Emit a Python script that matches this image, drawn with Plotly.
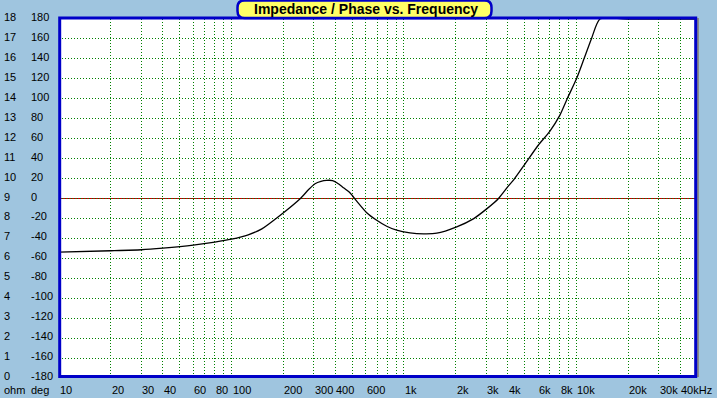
import numpy as np
import plotly.graph_objects as go

# ---- data ----
freq_hz = [10, 20, 30, 40, 60, 80, 100, 125, 150, 191, 250, 280, 305, 330, 356,
           385, 410, 440, 486, 532, 608, 695, 794, 907, 1083, 1300, 1549, 2021,
           2523, 3015, 3523, 4024, 4345, 5000, 6000, 7000, 8017, 8846, 10030,
           11040, 12240, 13680, 20000, 50000]
impedance_ohm = [6.31, 6.38, 6.43, 6.51, 6.66, 6.81, 6.96, 7.18, 7.48, 8.15,
                 8.99, 9.45, 9.74, 9.86, 9.91, 9.90, 9.78, 9.58, 9.29, 8.87,
                 8.29, 7.91, 7.61, 7.41, 7.28, 7.23, 7.26, 7.58, 7.98, 8.48,
                 8.99, 9.62, 9.96, 10.7, 11.67, 12.37, 13.18, 14.01, 15.03,
                 15.99, 17.04, 18.04, 25.0, 50.0]

ohm_ticks = list(range(0, 19))
deg_ticks = [-180, -160, -140, -120, -100, -80, -60, -40, -20, 0,
             20, 40, 60, 80, 100, 120, 140, 160, 180]
x_label_vals = [10, 20, 30, 40, 60, 80, 100, 200, 300, 400, 600, 1000, 2000,
                3000, 4000, 6000, 8000, 10000, 20000, 30000, 40000]
x_label_text = ["10", "20", "30", "40", "60", "80", "100", "200", "300", "400",
                "600", "1k", "2k", "3k", "4k", "6k", "8k", "10k", "20k", "30k",
                "40kHz"]
title_text = "Impedance / Phase vs. Frequency"

# ---- geometry ----
W, H = 717, 398
L, R, T, B = 59, 21, 19, 20
pw = W - L - R
ph = H - T - B


def px(x):
    return (x - L) / pw


def py(y):
    return (H - B - y) / ph


FONT = "Liberation Sans, Arial, sans-serif"
BG = "#9FC5DF"
BLUE = "#0000C8"
GRID = "#008000"
GRID_DASH = "1px,2px"

grid_x = [m * 10 ** e for e in range(1, 5) for m in range(1, 10) if m * 10 ** e <= 40000]
y_max = ohm_ticks[-1]
z = np.minimum(np.array(impedance_ohm), y_max)

fig = go.Figure(go.Scatter(
    x=freq_hz, y=z, mode="lines",
    line=dict(color="black", width=1.3, shape="spline", smoothing=0.6),
    hoverinfo="skip", showlegend=False))

fig.update_xaxes(type="log", range=[1, np.log10(49300)], tickvals=grid_x,
                 showticklabels=False, showgrid=True, gridcolor=GRID,
                 griddash=GRID_DASH, gridwidth=1, ticks="", showline=False,
                 zeroline=False)
fig.update_yaxes(range=[0, y_max], tickvals=ohm_ticks, showticklabels=False,
                 showgrid=True, gridcolor=GRID, griddash=GRID_DASH, gridwidth=1,
                 ticks="", showline=False, zeroline=False)

shapes = []
# zero-phase line
shapes.append(dict(type="line", xref="paper", yref="y", x0=0, x1=1, y0=9, y1=9,
                   line=dict(color="#C00000", width=1), layer="below"))
# right shadow
shapes.append(dict(type="line", xref="paper", yref="paper", x0=px(698), x1=px(698),
                   y0=py(377), y1=py(18), line=dict(color="#8A8A8A", width=2)))
# plot border
shapes.append(dict(type="rect", xref="paper", yref="paper",
                   x0=px(59.7), x1=px(695.7), y0=py(376.5), y1=py(18),
                   line=dict(color=BLUE, width=3), fillcolor="rgba(0,0,0,0)"))
# title rounded box
x0, x1, y0, y1, r = 237.5, 491.5, 0.5, 18.0, 7
rx, ry = r / pw, r / ph
X0, X1, Y0, Y1 = px(x0), px(x1), py(y0), py(y1)
path = (f"M {X0+rx},{Y0} L {X1-rx},{Y0} Q {X1},{Y0} {X1},{Y0-ry} "
        f"L {X1},{Y1+ry} Q {X1},{Y1} {X1-rx},{Y1} L {X0+rx},{Y1} "
        f"Q {X0},{Y1} {X0},{Y1+ry} L {X0},{Y0-ry} Q {X0},{Y0} {X0+rx},{Y0} Z")
shapes.append(dict(type="path", xref="paper", yref="paper", path=path,
                   fillcolor="#FFFF66", line=dict(color=BLUE, width=2.5)))

ann = []
ann.append(dict(text="<b>" + title_text + "</b>", xref="paper", yref="paper",
                x=px(366), y=py(9.5), xanchor="center", yanchor="middle",
                showarrow=False, font=dict(family=FONT, size=14, color="black")))
for o, d in zip(ohm_ticks, deg_ticks):
    ann.append(dict(text=str(o), xref="paper", yref="y", x=px(2), y=o,
                    xanchor="left", yanchor="middle", yshift=2, showarrow=False,
                    font=dict(family=FONT, size=11, color="black")))
    ann.append(dict(text=str(d), xref="paper", yref="y", x=px(29), y=o,
                    xanchor="left", yanchor="middle", yshift=2, showarrow=False,
                    font=dict(family=FONT, size=11, color="black")))
ann.append(dict(text="ohm", xref="paper", yref="paper", x=px(2), y=py(390),
                xanchor="left", yanchor="middle", showarrow=False,
                font=dict(family=FONT, size=11, color="black")))
ann.append(dict(text="deg", xref="paper", yref="paper", x=px(29), y=py(390),
                xanchor="left", yanchor="middle", showarrow=False,
                font=dict(family=FONT, size=11, color="black")))
for v, t in zip(x_label_vals, x_label_text):
    ann.append(dict(text=t, xref="x", yref="paper", x=np.log10(v), y=py(390),
                    xanchor="left", yanchor="middle", xshift=-1, showarrow=False,
                    font=dict(family=FONT, size=11, color="black")))

fig.update_layout(width=W, height=H, margin=dict(l=L, r=R, t=T, b=B),
                  paper_bgcolor=BG, plot_bgcolor="white", shapes=shapes,
                  annotations=ann, showlegend=False)

fig.write_html("out.html", config={"displayModeBar": False},
               post_script="document.body.style.margin='0';"
                           "document.body.style.overflow='hidden';"
                           f"document.body.style.background='{BG}';")
